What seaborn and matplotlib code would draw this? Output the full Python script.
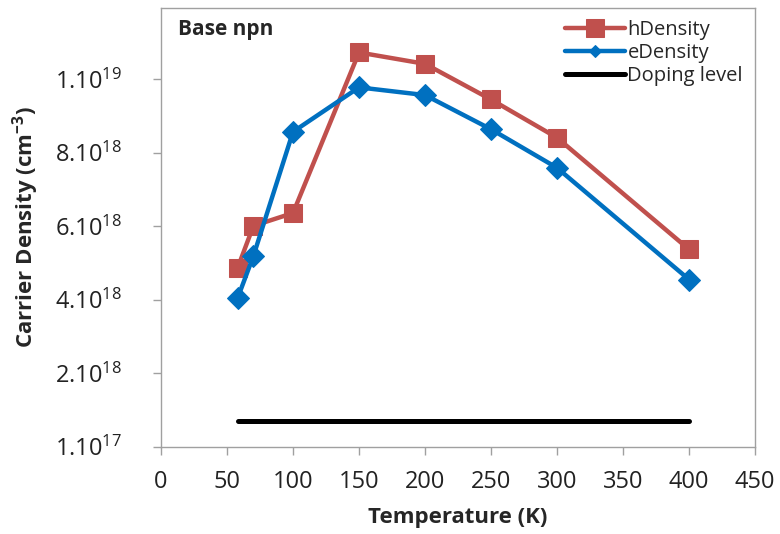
import seaborn as sns
import matplotlib.pyplot as plt
import pandas as pd

# data (carrier density in units of 1e18 cm^-3)
temperature = [58, 70, 100, 150, 200, 250, 300, 400]
h_density = [4.86, 6.01, 6.36, 10.73, 10.42, 9.45, 8.41, 5.37]
e_density = [4.04, 5.19, 8.57, 9.78, 9.57, 8.64, 7.59, 4.55]
doping_x = [58, 400]
doping_level = [0.70, 0.70]

y_ticks = [0, 2, 4, 6, 8, 10]
y_tick_labels = ["1.10$^{17}$", "2.10$^{18}$", "4.10$^{18}$",
                 "6.10$^{18}$", "8.10$^{18}$", "1.10$^{19}$"]
x_ticks = [0, 50, 100, 150, 200, 250, 300, 350, 400, 450]

df = pd.DataFrame({"T": temperature, "h": h_density, "e": e_density})
dop = pd.DataFrame({"T": doping_x, "n": doping_level})

sns.set_style("white")
plt.rcParams["font.family"] = ["Open Sans", "DejaVu Sans"]
plt.rcParams["mathtext.default"] = "regular"

fig = plt.figure(figsize=(7.8, 5.34), dpi=100)
ax = fig.add_axes([0.2064, 0.1635, 0.7616, 0.8215])

red = "#C0504D"
blue = "#0070C0"

sns.lineplot(data=df, x="T", y="h", ax=ax, color=red, lw=3.2, marker="s",
             markersize=13.5, markeredgecolor=red, label="hDensity")
sns.lineplot(data=df, x="T", y="e", ax=ax, color=blue, lw=3.2, marker="D",
             markersize=11, markeredgecolor=blue, label="eDensity")
sns.lineplot(data=dop, x="T", y="n", ax=ax, color="black", lw=3.6,
             label="Doping level", solid_capstyle="round")

ax.set_xlim(0, 450)
ax.set_ylim(0, 11.94)
ax.set_xticks(x_ticks)
ax.set_yticks(y_ticks)
ax.set_yticklabels(y_tick_labels)
ax.tick_params(axis="both", labelsize=17, colors="#A0A0A0", labelcolor="#222222",
               direction="out", length=6, width=1)
ax.tick_params(axis="y", pad=22)
ax.tick_params(axis="x", pad=11)
ax.tick_params(left=True, bottom=True)
for s in ax.spines.values():
    s.set_color("#A0A0A0")
    s.set_linewidth(1)

ax.set_xlabel("Temperature (K)", fontsize=16, fontweight="bold", labelpad=9)
ax.set_ylabel("Carrier Density (cm$^{-3}$)", fontsize=16, fontweight="bold", labelpad=10)
ax.text(0.029, 0.975, "Base npn", transform=ax.transAxes, fontsize=15,
        fontweight="bold", va="top", ha="left")

leg = ax.legend(loc="upper right", frameon=False, fontsize=14.5, handlelength=3.0,
                handletextpad=0.1, labelspacing=0.15, borderaxespad=0.2)
leg.legend_handles[1].set_markersize(6)

plt.savefig("out.png", dpi=100)
plt.close()
